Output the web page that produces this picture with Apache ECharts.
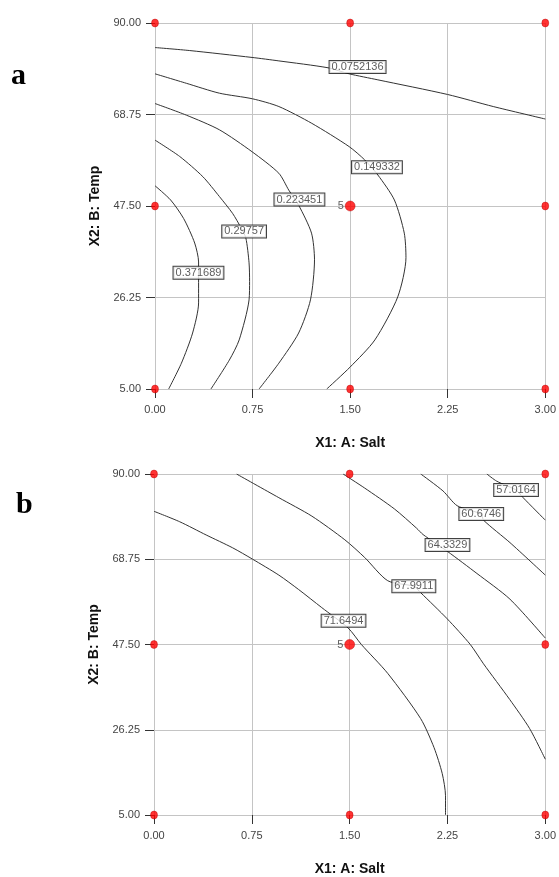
<!DOCTYPE html>
<html>
<head>
<meta charset="utf-8">
<script src="https://cdn.jsdelivr.net/npm/echarts@6/dist/echarts.min.js"></script>
<style>
  html, body { margin: 0; padding: 0; background: #fff; }
  #main { width: 559px; height: 877px; }
</style>
</head>
<body>
<div id="main"></div>
<script>
// axis ticks (shared by both plots)
var xTicks = [0, 0.75, 1.5, 2.25, 3];
var yTicks = [5, 26.25, 47.5, 68.75, 90];

// 3x3 design points
var designX = [0, 1.5, 3];
var designY = [5, 47.5, 90];
var centerPoint = [1.5, 47.5];
var centerRuns = "5";

// plot a: contour lines, [salt, temp]
var a0752 = [[0, 84.3], [0.267, 83.6], [0.746, 82.0], [0.952, 81.2], [1.33, 79.6], [1.492, 78.2], [1.713, 76.8], [2.249, 73.4], [2.6, 70.6], [3, 67.7]];
var a1493 = [[0, 78.2], [0.241, 76.0], [0.495, 73.7], [0.749, 72.4], [0.952, 70.6], [1.205, 66.7], [1.492, 61.3], [1.612, 58.2], [1.713, 54.7], [1.84, 48.9], [1.916, 41.2], [1.929, 35.5], [1.866, 26.4], [1.69, 16.4], [1.5, 10.1], [1.32, 5]];
var a2235 = [[0, 71.3], [0.241, 68.6], [0.495, 65.2], [0.746, 60.1], [0.952, 55.1], [1.028, 51.2], [1.104, 47.7], [1.203, 41.2], [1.226, 35.0], [1.195, 25.7], [1.104, 18.0], [0.952, 11.0], [0.80, 5]];
var a2976 = [[0, 62.8], [0.19, 59.0], [0.368, 54.3], [0.495, 49.7], [0.596, 45.8], [0.66, 42.5], [0.698, 40.1], [0.723, 34.3], [0.727, 30.0], [0.723, 25.7], [0.647, 16.4], [0.571, 11.7], [0.43, 5]];
var a3717 = [[0, 52.2], [0.12, 48.9], [0.22, 44.6], [0.305, 38.9], [0.335, 34.5], [0.335, 25.0], [0.289, 18.0], [0.203, 11.0], [0.105, 5]];
var aLevels = ["0.0752136", "0.149332", "0.223451", "0.29757", "0.371689"];
var aLabelAt = [[1.557, 79.8], [1.706, 56.5], [1.11, 49.0], [0.685, 41.6], [0.334, 32.0]];

// plot b: contour lines, [salt, temp]
var b5702 = [[2.552, 90], [2.628, 88.2], [2.776, 86.0], [2.83, 84.1], [3.0, 78.5]];
var b6067 = [[2.045, 90], [2.215, 85.8], [2.324, 82.1], [2.509, 80.0], [2.526, 78.5], [2.729, 72.9], [3.0, 64.8]];
var b6433 = [[1.45, 90], [1.615, 86.5], [1.843, 81.3], [2.013, 76.5], [2.063, 74.9], [2.25, 70.7], [2.476, 65.2], [2.729, 58.8], [3.0, 49.1]];
var b6799 = [[0.633, 90], [0.957, 84.1], [1.21, 79.5], [1.463, 73.6], [1.615, 69.2], [1.792, 63.4], [1.992, 62.0], [2.045, 60.4], [2.248, 53.9], [2.425, 47.5], [2.526, 42.7], [2.727, 33.8], [2.879, 26.6], [3.0, 18.9]];
var b7165 = [[0, 80.7], [0.197, 78.1], [0.4, 74.8], [0.603, 71.6], [0.754, 68.8], [0.957, 64.8], [1.109, 61.2], [1.286, 56.7], [1.489, 51.6], [1.59, 47.5], [1.792, 40.3], [2.045, 29.0], [2.147, 21.8], [2.21, 15.3], [2.235, 9.8], [2.235, 5]];
var bLevels = ["57.0164", "60.6746", "64.3329", "67.9911", "71.6494"];
var bLabelAt = [[2.776, 86.0], [2.509, 80.0], [2.25, 72.3], [1.992, 62.0], [1.453, 53.4]];

var chart = echarts.init(document.getElementById("main"));
var sans = "Liberation Sans, Arial, sans-serif";

function xAxisFor(i) {
  return {
    gridIndex: i, type: "value",
    min: xTicks[0], max: xTicks[xTicks.length - 1], interval: xTicks[1] - xTicks[0],
    name: "X1: A: Salt", nameLocation: "middle", nameGap: 47,
    nameTextStyle: { fontFamily: sans, fontSize: 14, fontWeight: "bold", color: "#111" },
    axisLine: { show: false },
    axisTick: { show: true, length: 9, lineStyle: { color: "#333" } },
    axisLabel: { fontFamily: sans, fontSize: 11, color: "#444", margin: 15, formatter: function (v) { return v.toFixed(2); } },
    splitLine: { show: true, lineStyle: { color: "#c4c4c4", width: 1 } }
  };
}
function yAxisFor(i, gap) {
  return {
    gridIndex: i, type: "value",
    min: yTicks[0], max: yTicks[yTicks.length - 1], interval: yTicks[1] - yTicks[0],
    name: "X2: B: Temp", nameLocation: "middle", nameGap: gap,
    nameTextStyle: { fontFamily: sans, fontSize: 14, fontWeight: "bold", color: "#111" },
    axisLine: { show: false },
    axisTick: { show: true, length: 9, lineStyle: { color: "#333" } },
    axisLabel: { fontFamily: sans, fontSize: 11, color: "#444", margin: 14, formatter: function (v) { return v.toFixed(2); } },
    splitLine: { show: true, lineStyle: { color: "#c4c4c4", width: 1 } }
  };
}

function contour(i, pts) {
  return {
    type: "line", xAxisIndex: i, yAxisIndex: i, data: pts,
    showSymbol: false, smooth: 0.25, silent: true, z: 3,
    lineStyle: { color: "#333", width: 1 }
  };
}
function levelLabels(i, levels, at) {
  return {
    type: "scatter", xAxisIndex: i, yAxisIndex: i, symbolSize: 0, z: 5, silent: true,
    data: levels.map(function (t, k) { return { value: at[k], name: t }; }),
    label: {
      show: true, position: "inside", formatter: "{b}",
      fontFamily: sans, fontSize: 11, color: "#333", lineHeight: 12,
      backgroundColor: "#fff", borderColor: "#111", borderWidth: 1, padding: [0, 2, 0, 2]
    }
  };
}
function design(i) {
  var pts = [];
  designX.forEach(function (x) {
    designY.forEach(function (y) {
      if (x === centerPoint[0] && y === centerPoint[1]) return;
      pts.push([x, y]);
    });
  });
  return [{
    type: "scatter", xAxisIndex: i, yAxisIndex: i, data: pts, z: 6, silent: true,
    symbolSize: [7, 8], itemStyle: { color: "#ff0000", borderColor: "#b00000", borderWidth: 0.5 }
  }, {
    type: "scatter", xAxisIndex: i, yAxisIndex: i, data: [centerPoint], z: 6, silent: true,
    symbolSize: 10, itemStyle: { color: "#ff0000", borderColor: "#b00000", borderWidth: 0.5 },
    label: { show: true, position: "left", distance: 1, formatter: centerRuns, fontFamily: sans, fontSize: 11, color: "#333" }
  }];
}

var series = []
  .concat([a0752, a1493, a2235, a2976, a3717].map(function (p) { return contour(0, p); }))
  .concat([levelLabels(0, aLevels, aLabelAt)])
  .concat(design(0))
  .concat([b5702, b6067, b6433, b6799, b7165].map(function (p) { return contour(1, p); }))
  .concat([levelLabels(1, bLevels, bLabelAt)])
  .concat(design(1));

var option = {
  backgroundColor: "#fff",
  animation: false,
  grid: [
    { left: 155, top: 23, width: 394, height: 366 },
    { left: 154, top: 474, width: 395, height: 352 }
  ],
  xAxis: [xAxisFor(0), xAxisFor(1)],
  yAxis: [yAxisFor(0, 49), yAxisFor(1, 53)],
  graphic: [
    { type: "text", x: 11, y: 76, style: { text: "a", font: "bold 30px 'Liberation Serif', 'Times New Roman', serif", fill: "#000", verticalAlign: "middle" } },
    { type: "text", x: 16, y: 505, style: { text: "b", font: "bold 30px 'Liberation Serif', 'Times New Roman', serif", fill: "#000", verticalAlign: "middle" } }
  ],
  series: series
};
chart.setOption(option);
</script>
</body>
</html>
